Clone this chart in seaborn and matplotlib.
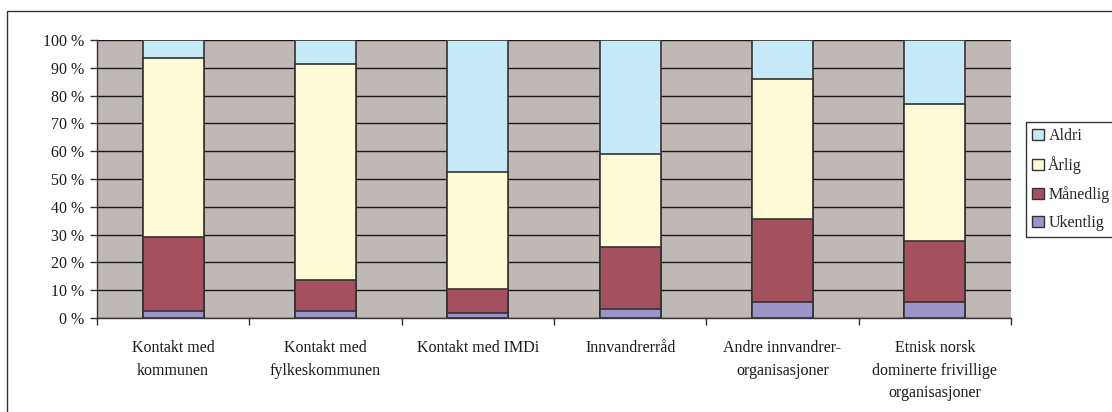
import matplotlib
matplotlib.use("Agg")
import matplotlib.pyplot as plt
import seaborn as sns
import numpy as np
import pandas as pd
from matplotlib.patches import Patch, Rectangle
from matplotlib.ticker import FixedLocator, FuncFormatter

categories = [
    "Kontakt med\nkommunen",
    "Kontakt med\nfylkeskommunen",
    "Kontakt med IMDi",
    "Innvandrerråd",
    "Andre innvandrer-\norganisasjoner",
    "Etnisk norsk\ndominerte frivillige\norganisasjoner",
]
ukentlig = [2.5, 2.5, 1.9, 3.1, 5.8, 5.8]
maanedlig = [26.7, 11.2, 8.4, 22.3, 29.8, 22.0]
aarlig = [64.4, 77.5, 42.3, 33.6, 50.3, 49.2]
aldri = [6.4, 8.8, 47.4, 41.0, 14.1, 23.0]

series_names = ["Ukentlig", "Månedlig", "Årlig", "Aldri"]
series_vals = [ukentlig, maanedlig, aarlig, aldri]
colors = {"Ukentlig": "#9C94C8", "Månedlig": "#A5505F", "Årlig": "#FFFAD6", "Aldri": "#C6E9F8"}

sns.set_theme(style="white")
plt.rcParams["font.family"] = ["Liberation Serif", "DejaVu Serif"]
plt.rcParams["font.size"] = 11.5

fig = plt.figure(figsize=(11.12, 4.12), dpi=100)
ax = fig.add_axes([97 / 1112, 1 - 318 / 412, (1011 - 97) / 1112, (318 - 40) / 412])
ax.set_facecolor("#C0B8B5")

# cumulative stacks
cum = np.cumsum(np.array(series_vals), axis=0)
df = pd.DataFrame({"cat": categories})
for name, c in zip(series_names, cum):
    df[name] = c

for name in reversed(series_names):
    sns.barplot(data=df, x="cat", y=name, color=colors[name], saturation=1,
                width=0.4, edgecolor="#333333", linewidth=1.2, ax=ax, zorder=3)

ax.set_ylim(0, 100)
ax.set_xlim(-0.5, len(categories) - 0.5)
ax.set_xlabel("")
ax.set_ylabel("")
ax.yaxis.set_major_locator(FixedLocator(np.arange(0, 101, 10)))
ax.yaxis.set_major_formatter(FuncFormatter(lambda v, p: f"{int(v)} %"))
ax.grid(axis="y", color="#1a1a1a", linewidth=1.0, zorder=0)
ax.set_axisbelow(True)
for s in ["top", "right"]:
    ax.spines[s].set_visible(False)
for s in ["left", "bottom"]:
    ax.spines[s].set_color("#333333")
    ax.spines[s].set_linewidth(1.0)

ax.tick_params(axis="y", which="major", left=True, length=5, width=1, color="#333333",
               pad=4, labelsize=11.5, labelcolor="#1a1a1a")
ax.set_xticks(range(len(categories)))
ax.set_xticklabels(categories, linespacing=1.55)
ax.tick_params(axis="x", which="major", bottom=False, length=0, pad=16,
               labelsize=11.5, labelcolor="#1a1a1a")
ax.xaxis.set_minor_locator(FixedLocator(np.arange(-0.5, len(categories), 1.0)))
ax.tick_params(axis="x", which="minor", bottom=True, length=5, width=1, color="#333333")

handles = [Patch(facecolor=colors[n], edgecolor="#333333", linewidth=1.0, label=n)
           for n in ["Aldri", "Årlig", "Månedlig", "Ukentlig"]]
leg = fig.legend(handles=handles, loc="upper left",
                 bbox_to_anchor=(1026 / 1112, 1 - 122 / 412),
                 frameon=True, fancybox=False, shadow=False, framealpha=1,
                 edgecolor="#333333", fontsize=11.5, handlelength=0.7,
                 handleheight=0.7, handletextpad=0.3, labelspacing=0.75,
                 borderpad=0.4, borderaxespad=0)
leg.get_frame().set_linewidth(1.0)

fig.patches.append(Rectangle((7 / 1112, -0.05), 1.2, 1 - 11 / 412 + 0.05,
                             transform=fig.transFigure, fill=False,
                             edgecolor="#333333", linewidth=1.0))

fig.savefig("out.png", dpi=100, facecolor="white")
